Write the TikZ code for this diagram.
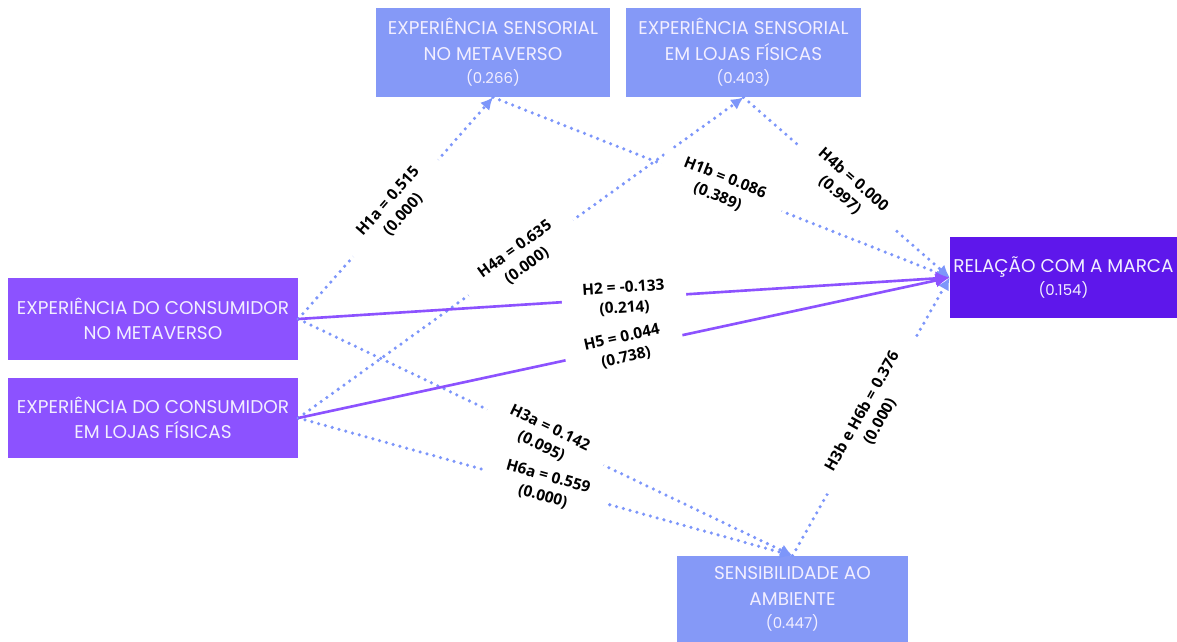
\documentclass[tikz,border=0pt]{standalone}
\usepackage{fontspec}
\newfontfamily\boxfont{Poppins}
\newfontfamily\lblfont{Open Sans}
\usetikzlibrary{arrows.meta}
\definecolor{sensblue}{RGB}{133,153,247}
\definecolor{consviolet}{RGB}{140,82,255}
\definecolor{brandviolet}{RGB}{94,23,235}
\definecolor{boxtext}{RGB}{242,238,255}
\definecolor{dotblue}{RGB}{125,150,250}

\begin{document}
\begin{tikzpicture}[x=0.02cm, y=-0.02cm, line join=miter]

	\tikzstyle{box}=[rectangle, inner sep=0pt, align=center, text=boxtext,
	  font=\boxfont\fontsize{10.5}{14.5}\selectfont]
	\tikzstyle{dots}=[draw=dotblue, line width=2pt, line cap=round,
	  dash pattern=on 0pt off 4pt, -{Latex[length=7pt,width=7pt]}]
	\tikzstyle{link}=[draw=consviolet, line width=1.5pt,
	  -{Latex[length=8pt,width=8pt]}]
	\tikzstyle{lbl}=[midway, sloped, fill=white, inner xsep=12pt, inner ysep=1pt,
	  align=center, font=\lblfont\bfseries\fontsize{8.8}{11.5}\selectfont]
    \def\vl#1{\\[-1pt]{\fontsize{8.5}{10}\selectfont(#1)}}

    \useasboundingbox (0,0) rectangle (1177,642);

    % construtos
    \node[box, fill=sensblue, minimum width=4.68cm, minimum height=1.78cm] (esm)
      at (493,52.5) {EXPERIÊNCIA SENSORIAL\\NO METAVERSO\vl{0.266}};
    \node[box, fill=sensblue, minimum width=4.7cm, minimum height=1.78cm] (esl)
      at (743.5,52.5) {EXPERIÊNCIA SENSORIAL\\EM LOJAS FÍSICAS\vl{0.403}};
    \node[box, fill=brandviolet, minimum width=4.54cm, minimum height=1.62cm] (rm)
      at (1063.5,277.5) {RELAÇÃO COM A MARCA\vl{0.154}};
    \node[box, fill=consviolet, minimum width=5.8cm, minimum height=1.64cm] (ecm)
      at (153,319) {EXPERIÊNCIA DO CONSUMIDOR\\NO METAVERSO};
    \node[box, fill=consviolet, minimum width=5.8cm, minimum height=1.6cm] (ecl)
      at (153,418) {EXPERIÊNCIA DO CONSUMIDOR\\EM LOJAS FÍSICAS};
    \node[box, fill=sensblue, minimum width=4.62cm, minimum height=1.72cm] (sa)
      at (792.5,599) {SENSIBILIDADE AO\\AMBIENTE\vl{0.447}};

    % caminhos pontilhados
    \draw[dots] (ecm.east) -- node[lbl] {H1a = 0.515\\(0.000)} (esm.south);
    \draw[dots] (ecl.east) -- node[lbl] {H4a = 0.635\\(0.000)} (esl.south);
    \draw[dots] (esl.south) -- node[lbl] {H4b = 0.000\\(0.997)} (rm.west);
    \draw[dots] (esm.south) -- node[lbl] {H1b = 0.086\\(0.389)} (rm.west);
    \draw[dots] (ecm.east) -- node[lbl] {H3a = 0.142\\(0.095)} (sa.north);
    \draw[dots] (ecl.east) -- node[lbl] {H6a = 0.559\\(0.000)} (sa.north);
    \draw[dots] (sa.north) -- node[lbl] {H3b e H6b = 0.376\\(0.000)} (rm.west);

    % caminhos diretos
    \draw[link] (ecm.east) -- node[lbl] {H2 = -0.133\\(0.214)} (rm.west);
    \draw[link] (ecl.east) -- node[lbl] {H5 = 0.044\\(0.738)} (rm.west);

  \end{tikzpicture}
\end{document}
